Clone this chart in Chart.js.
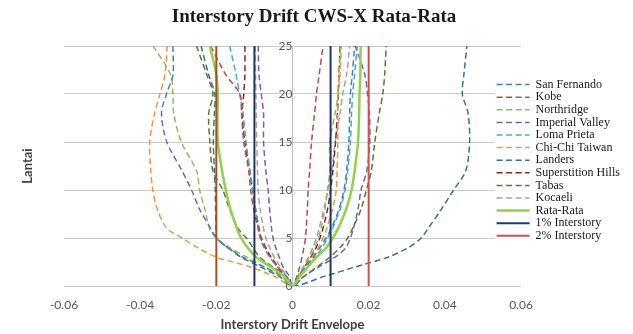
<!DOCTYPE html>
<html>
<head>
<meta charset="utf-8">
<script src="https://cdn.jsdelivr.net/npm/chart.js@4/dist/chart.umd.min.js"></script>
<style>
  html, body { margin: 0; padding: 0; background: #fff; }
  #wrap { width: 633px; height: 334px; }
</style>
</head>
<body>
<div id="wrap"><canvas id="drift-chart" width="633" height="334"></canvas></div>
<script>
// lantai (floors) where the drift envelope is read
var floors = [1, 2, 3, 4, 5, 6, 8, 10, 12, 15, 18, 20, 22, 25];

// negative (min) and positive (max) envelopes per record
var sanFernandoMin = [-0.0026, -0.0075, -0.013, -0.017, -0.020, -0.0215, -0.0244, -0.0265, -0.029, -0.033, -0.0344, -0.0331, -0.0314, -0.0314];
var sanFernandoMax = [0.0015, 0.0035, 0.0055, 0.0072, 0.0088, 0.0102, 0.0122, 0.0135, 0.0142, 0.0148, 0.015, 0.0152, 0.0157, 0.0163];
var kobeMin = [-0.002, -0.004, -0.0058, -0.0072, -0.0084, -0.009, -0.0102, -0.011, -0.0115, -0.0128, -0.0134, -0.0138, -0.0175, -0.0215];
var kobeMax = [0.0011, 0.0019, 0.0025, 0.003, 0.0034, 0.0036, 0.0039, 0.0041, 0.0045, 0.005, 0.0058, 0.0063, 0.007, 0.008];
var northridgeMin = [-0.003, -0.0075, -0.012, -0.0165, -0.020, -0.0218, -0.023, -0.0244, -0.0252, -0.0292, -0.0312, -0.0314, -0.032, -0.0366];
var northridgeMax = [0.0014, 0.003, 0.0045, 0.0058, 0.0068, 0.0075, 0.0085, 0.0092, 0.0098, 0.0098, 0.0112, 0.012, 0.0125, 0.0128];
var imperialMin = [-0.0008, -0.0025, -0.0035, -0.0044, -0.0051, -0.0055, -0.006, -0.0064, -0.007, -0.0076, -0.0076, -0.0082, -0.0088, -0.009];
var imperialMax = [0.003, 0.007, 0.0112, 0.014, 0.0152, 0.016, 0.0172, 0.018, 0.0195, 0.0203, 0.0202, 0.0197, 0.019, 0.0165];
var lomaMin = [-0.0018, -0.004, -0.006, -0.0075, -0.0085, -0.009, -0.0097, -0.0104, -0.0112, -0.0122, -0.013, -0.0139, -0.0148, -0.0165];
var lomaMax = [0.0018, 0.004, 0.006, 0.0078, 0.0092, 0.0105, 0.0125, 0.0138, 0.0145, 0.0152, 0.0155, 0.0158, 0.0163, 0.017];
var chiChiMin = [-0.0048, -0.0112, -0.020, -0.025, -0.029, -0.033, -0.0355, -0.0367, -0.0372, -0.0375, -0.0362, -0.0348, -0.0335, -0.0329];
var chiChiMax = [0.0016, 0.0035, 0.0052, 0.0068, 0.008, 0.009, 0.0105, 0.0115, 0.0117, 0.0119, 0.0119, 0.0119, 0.0122, 0.0126];
var landersMin = [-0.0035, -0.0085, -0.0135, -0.017, -0.020, -0.0201, -0.0202, -0.0203, -0.0205, -0.0208, -0.0205, -0.0204, -0.022, -0.024];
var landersMax = [0.0083, 0.0166, 0.025, 0.0305, 0.0338, 0.0356, 0.0391, 0.0423, 0.0455, 0.0465, 0.0461, 0.0446, 0.045, 0.0458];
var superstitionMin = [-0.0018, -0.0038, -0.0056, -0.007, -0.0082, -0.0088, -0.0097, -0.0105, -0.0112, -0.0125, -0.0132, -0.0128, -0.0125, -0.0125];
var superstitionMax = [0.0015, 0.0032, 0.0048, 0.0062, 0.0072, 0.008, 0.0092, 0.010, 0.0106, 0.0113, 0.0118, 0.012, 0.0122, 0.0125];
var tabasMin = [-0.0016, -0.0052, -0.0086, -0.0104, -0.0121, -0.0143, -0.0165, -0.0183, -0.0209, -0.0217, -0.022, -0.0209, -0.0225, -0.0252];
var tabasMax = [0.003, 0.0065, 0.0098, 0.0125, 0.0145, 0.0158, 0.018, 0.0194, 0.0207, 0.0216, 0.0228, 0.0237, 0.0242, 0.0246];
var kocaeliMin = [-0.0014, -0.0032, -0.0048, -0.006, -0.007, -0.0076, -0.0085, -0.009, -0.0092, -0.0094, -0.0095, -0.0096, -0.0097, -0.0098];
var kocaeliMax = [0.0013, 0.0028, 0.0042, 0.0053, 0.0063, 0.007, 0.0082, 0.0093, 0.0103, 0.0112, 0.0125, 0.0132, 0.0142, 0.015];
var rataMin = [-0.0022, -0.0058, -0.0095, -0.0118, -0.0135, -0.0146, -0.0163, -0.0175, -0.0185, -0.0196, -0.0197, -0.0196, -0.020, -0.0217];
var rataMax = [0.0019, 0.0041, 0.0063, 0.0089, 0.0106, 0.012, 0.0141, 0.0155, 0.0163, 0.0172, 0.0175, 0.0176, 0.0178, 0.0179];

// batas drift 1% dan 2%
var driftLimits = [0.01, 0.02];
var floorRange = [0, 25];
var xTickLabels = ["-0.06", "-0.04", "-0.02", "0", "0.02", "0.04", "0.06"];

function envelope(minVals, maxVals) {
    var pts = [];
    for (var i = floors.length - 1; i >= 0; i--) {
        pts.push({x: minVals[i], y: floors[i]});
    }
    pts.push({x: 0, y: 0});
    for (var j = 0; j < floors.length; j++) {
        pts.push({x: maxVals[j], y: floors[j]});
    }
    return pts;
}

function limitLine(v) {
    return [{x: v, y: floorRange[0]}, {x: v, y: floorRange[1]}];
}

function dashed(label, color, minVals, maxVals) {
    return {
        label: label,
        data: envelope(minVals, maxVals),
        borderColor: color,
        backgroundColor: color,
        borderWidth: 1.5,
        borderDash: [6, 3.5],
        tension: 0.3,
        order: 3
    };
}

var datasets = [
    dashed("San Fernando", "#4a7ebb", sanFernandoMin, sanFernandoMax),
    dashed("Kobe", "#be4b48", kobeMin, kobeMax),
    dashed("Northridge", "#98b954", northridgeMin, northridgeMax),
    dashed("Imperial Valley", "#7d60a0", imperialMin, imperialMax),
    dashed("Loma Prieta", "#46aac5", lomaMin, lomaMax),
    dashed("Chi-Chi Taiwan", "#f69240", chiChiMin, chiChiMax),
    dashed("Landers", "#31748f", landersMin, landersMax),
    dashed("Superstition Hills", "#772c2a", superstitionMin, superstitionMax),
    dashed("Tabas", "#5f7530", tabasMin, tabasMax),
    dashed("Kocaeli", "#a5a5a5", kocaeliMin, kocaeliMax),
    {
        label: "Rata-Rata",
        data: envelope(rataMin, rataMax),
        borderColor: "#92d050",
        backgroundColor: "#92d050",
        borderWidth: 2.5,
        tension: 0.3,
        order: 2
    },
    {
        label: "1% Interstory",
        data: limitLine(-driftLimits[0]).concat([{x: 0, y: null}], limitLine(driftLimits[0])),
        borderColor: "#1f3864",
        backgroundColor: "#1f3864",
        borderWidth: 2,
        spanGaps: false,
        order: 1
    },
    {
        label: "2% Interstory",
        data: limitLine(driftLimits[1]),
        borderColor: "#d0504d",
        backgroundColor: "#d0504d",
        borderWidth: 2,
        order: 1
    },
    {
        label: "-2%",
        data: limitLine(-driftLimits[1]),
        borderColor: "#a4521c",
        backgroundColor: "#a4521c",
        borderWidth: 2,
        order: 1
    }
];

var legendBox = {left: 496, top: 78, bottom: 250};

var extrasPlugin = {
    id: "extras",
    afterLayout: function(chart) {
        var lg = chart.legend;
        lg.left = legendBox.left;
        lg.right = 633;
        lg.width = 633 - legendBox.left;
        lg.top = legendBox.top;
        lg.bottom = legendBox.top + 240;
        lg.height = 240;
    },
    beforeDatasetsDraw: function(chart) {
        var ctx = chart.ctx;
        ctx.save();
        ctx.fillStyle = "#ffffff";
        ctx.fillRect(legendBox.left - 1, legendBox.top - 2, 633 - legendBox.left, legendBox.bottom - legendBox.top);
        ctx.restore();
        chart.legend.draw();

        ctx.save();
        ctx.fillStyle = "#1a1a1a";
        ctx.textAlign = "center";
        ctx.textBaseline = "middle";
        ctx.font = "bold 19px 'Liberation Serif'";
        ctx.fillText("Interstory Drift CWS-X Rata-Rata", 314, 17);
        // judul sumbu y di kiri
        ctx.translate(28, 166);
        ctx.rotate(-Math.PI / 2);
        ctx.font = "bold 13px Lato";
        ctx.fillStyle = "#404040";
        ctx.fillText("Lantai", 0, 0);
        ctx.restore();
    }
};

var ctx = document.getElementById("drift-chart").getContext("2d");
var chart = new Chart(ctx, {
    type: "scatter",
    data: { datasets: datasets },
    plugins: [extrasPlugin],
    options: {
        responsive: false,
        animation: false,
        layout: {
            padding: { left: 64, right: 112, top: 46, bottom: 0 }
        },
        elements: {
            point: { radius: 0, hoverRadius: 0 }
        },
        datasets: {
            scatter: { showLine: true, pointRadius: 0 }
        },
        scales: {
            x: {
                type: "linear",
                position: "bottom",
                min: -0.06,
                max: 0.06,
                ticks: {
                    stepSize: 0.02,
                    padding: 13,
                    color: "#595959",
                    font: { family: "Lato", size: 12, lineHeight: 1 },
                    callback: function(v, i) { return xTickLabels[i]; }
                },
                grid: { display: false, drawTicks: false },
                border: { display: false },
                title: {
                    display: true,
                    text: "Interstory Drift Envelope",
                    color: "#404040",
                    font: { family: "Lato", size: 13, weight: "bold", lineHeight: 1 },
                    padding: { top: -5.5, bottom: 2.5 }
                }
            },
            y: {
                type: "linear",
                position: { x: 0 },
                min: floorRange[0],
                max: floorRange[1],
                ticks: {
                    stepSize: 5,
                    padding: 8,
                    color: "#595959",
                    font: { family: "Lato", size: 12 }
                },
                grid: { color: "#c9c9c9", lineWidth: 1, drawTicks: false },
                border: { display: true, color: "#bfbfbf", width: 1 }
            }
        },
        plugins: {
            title: { display: false },
            legend: {
                display: true,
                position: "chartArea",
                align: "start",
                labels: {
                    usePointStyle: true,
                    pointStyle: "line",
                    pointStyleWidth: 33,
                    padding: 0.6,
                    color: "#1a1a1a",
                    font: { family: "Liberation Serif", size: 12 },
                    generateLabels: function(chart) {
                        var items = Chart.defaults.plugins.legend.labels.generateLabels(chart);
                        items.forEach(function(it) {
                            var ds = chart.data.datasets[it.datasetIndex];
                            it.lineDash = ds.borderDash || [];
                            it.lineWidth = ds.borderWidth;
                            it.strokeStyle = ds.borderColor;
                        });
                        return items;
                    },
                    filter: function(item) { return item.text !== "-2%"; },
                    sort: function(a, b) { return a.datasetIndex - b.datasetIndex; }
                }
            },
            tooltip: { enabled: false }
        }
    }
});
</script>
</body>
</html>
